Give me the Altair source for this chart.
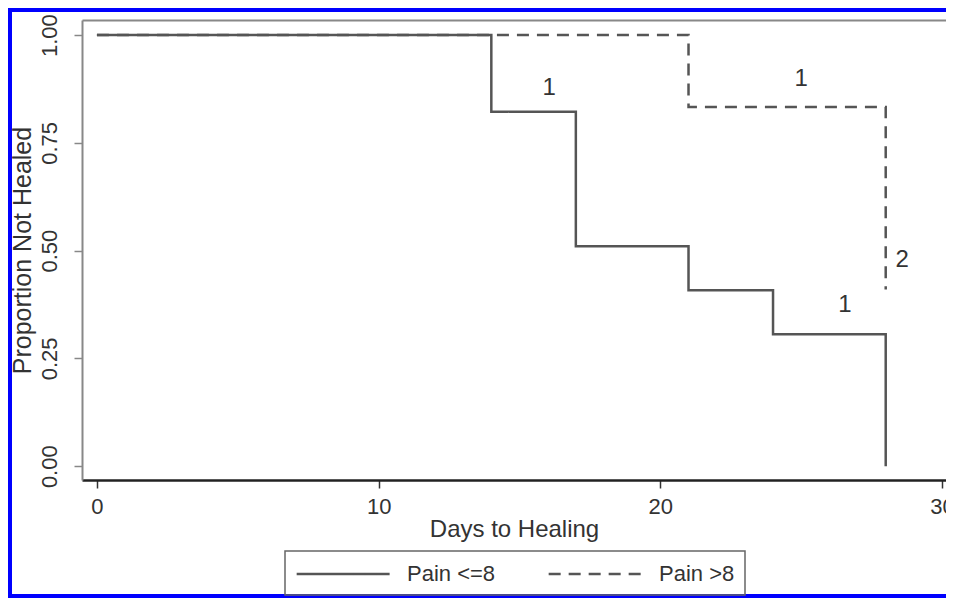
import altair as alt
import pandas as pd

# Kaplan-Meier steps
groups = ["Pain <=8", "Pain >8"]
low_days = [0, 14, 17, 21, 24, 28]
low_surv = [1.0, 0.822, 0.51, 0.408, 0.306, 0.0]
high_days = [0, 21, 28]
high_surv = [1.0, 0.833, 0.41]

# censoring-count annotations
note_text = ["1", "1", "2", "1"]
note_x = [16.05, 25.0, 28.58, 26.55]
note_y = [0.878, 0.898, 0.478, 0.374]

x_ticks = [0, 10, 20, 30]
y_ticks = [0.0, 0.25, 0.5, 0.75, 1.0]

low = pd.DataFrame({"day": low_days, "surv": low_surv, "group": groups[0]})
high = pd.DataFrame({"day": high_days, "surv": high_surv, "group": groups[1]})
notes = pd.DataFrame({"day": note_x, "surv": note_y, "txt": note_text})

FONT = "Liberation Sans"
GRAY = "#555555"

xscale = alt.Scale(domain=[-0.53, 30.14], nice=False, zero=False)
yscale = alt.Scale(domain=[-0.032, 1.035], nice=False, zero=False)

# long horizontal stroke symbol for the legend (extends left of its nominal box)
LEGEND_LINE = "M-7,0H1"

dash = alt.StrokeDash(
    "group:N",
    scale=alt.Scale(domain=groups, range=[[1, 0], [12, 8]]),
    legend=alt.Legend(
        title=None, orient="none", legendX=203, legendY=531,
        direction="horizontal", symbolType=LEGEND_LINE, symbolSize=540,
        symbolOffset=70, symbolStrokeWidth=2.5, symbolStrokeColor=GRAY,
        symbolFillColor="transparent",
        labelFontSize=22, labelFont=FONT, labelColor="#333333",
        labelOffset=16, columnPadding=47, padding=10,
        strokeColor="#666666",
    ),
)

xaxis = alt.Axis(
    values=x_ticks, title="Days to Healing", grid=False,
    domainColor="#222222", domainWidth=2.5, tickColor="#333333",
    tickSize=8, tickWidth=1.5, labelFontSize=22, labelFont=FONT,
    labelColor="#333333", labelPadding=8, titleFontSize=24,
    titleFont=FONT, titleFontWeight="normal", titleColor="#333333",
    titlePadding=0,
)
yaxis = alt.Axis(
    values=y_ticks, format=".2f", title="Proportion Not Healed", grid=False,
    labelAngle=270, labelAlign="center", labelBaseline="bottom",
    domainColor="#888888", domainWidth=2, tickColor="#888888",
    tickSize=8, tickWidth=1.5, labelFontSize=22, labelFont=FONT,
    labelColor="#333333", labelPadding=13, titleFontSize=25,
    titleFont=FONT, titleFontWeight="normal", titleColor="#333333",
    titlePadding=3,
)
topaxis = alt.Axis(
    orient="top", title=None, labels=False, ticks=False, grid=False,
    domainColor="#888888", domainWidth=2,
)

dashed = alt.Chart(high).mark_line(
    interpolate="step-after", color=GRAY, strokeWidth=2.5
).encode(
    x=alt.X("day:Q", scale=xscale, axis=xaxis),
    y=alt.Y("surv:Q", scale=yscale, axis=yaxis),
    strokeDash=dash,
)

solid = alt.Chart(low).mark_line(
    interpolate="step-after", color=GRAY, strokeWidth=2.5
).encode(
    x=alt.X("day:Q", scale=xscale, axis=None),
    y=alt.Y("surv:Q", scale=yscale, axis=None),
    strokeDash=dash,
)

text = alt.Chart(notes).mark_text(
    fontSize=24, font=FONT, color="#333333", align="center", baseline="middle"
).encode(
    x=alt.X("day:Q", scale=xscale, axis=topaxis),
    y=alt.Y("surv:Q", scale=yscale, axis=None),
    text="txt:N",
)

frame = alt.Chart(pd.DataFrame({"k": [0]})).mark_rect(
    fill=None, stroke="#0000ff", strokeWidth=4
).encode(
    x=alt.value(-72), x2=alt.value(1200),
    y=alt.value(-10), y2=alt.value(576),
)

chart = (
    alt.layer(dashed, solid, text, frame)
    .resolve_axis(x="independent", y="independent")
    .properties(
        width=864, height=460,
        padding={"left": 74, "top": 12, "right": 0, "bottom": 118},
        autosize=alt.AutoSizeParams(type="none"),
        background="white",
    )
    .configure_view(stroke=None)
    .configure_legend(strokeWidth=1.5)
)

chart.save("out.html", embed_options={"renderer": "svg", "actions": False})
